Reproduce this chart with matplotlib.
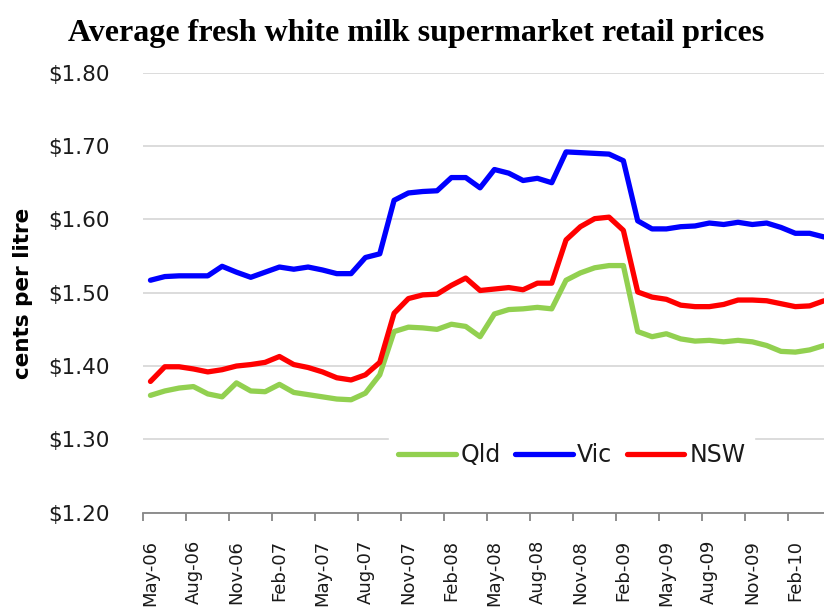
import matplotlib
matplotlib.use("Agg")
import matplotlib.pyplot as plt
from matplotlib.ticker import FuncFormatter, FixedLocator, NullFormatter

# ---------------- data ----------------
series_names = ["Qld", "Vic", "NSW"]
series_colors = ["#92D050", "#0000FF", "#FF0000"]

qld = [1.360, 1.366, 1.370, 1.372, 1.362, 1.358, 1.377, 1.366, 1.365, 1.375,
       1.364, 1.361, 1.358, 1.355, 1.354, 1.363, 1.388, 1.447, 1.453, 1.452,
       1.450, 1.457, 1.454, 1.440, 1.471, 1.477, 1.478, 1.480, 1.478, 1.517,
       1.527, 1.534, 1.537, 1.537, 1.447, 1.440, 1.444, 1.437, 1.434, 1.435,
       1.433, 1.435, 1.433, 1.428, 1.420, 1.419, 1.422, 1.428]

vic = [1.517, 1.522, 1.523, 1.523, 1.523, 1.536, 1.528, 1.521, 1.528, 1.535,
       1.532, 1.535, 1.531, 1.526, 1.526, 1.548, 1.553, 1.626, 1.636, 1.638,
       1.639, 1.657, 1.657, 1.643, 1.668, 1.663, 1.653, 1.656, 1.650, 1.692,
       1.691, 1.690, 1.689, 1.680, 1.598, 1.587, 1.587, 1.590, 1.591, 1.595,
       1.593, 1.596, 1.593, 1.595, 1.589, 1.581, 1.581, 1.576]

nsw = [1.379, 1.399, 1.399, 1.396, 1.392, 1.395, 1.400, 1.402, 1.405, 1.413,
       1.402, 1.398, 1.392, 1.384, 1.381, 1.388, 1.405, 1.472, 1.492, 1.497,
       1.498, 1.510, 1.520, 1.503, 1.505, 1.507, 1.504, 1.513, 1.513, 1.572,
       1.590, 1.601, 1.603, 1.585, 1.501, 1.494, 1.491, 1.483, 1.481, 1.481,
       1.484, 1.490, 1.490, 1.489, 1.485, 1.481, 1.482, 1.489]

# tick labels shown every third month (category index 0, 3, 6, ...)
x_tick_labels = ["May-06", "Aug-06", "Nov-06", "Feb-07", "May-07", "Aug-07",
                 "Nov-07", "Feb-08", "May-08", "Aug-08", "Nov-08", "Feb-09",
                 "May-09", "Aug-09", "Nov-09", "Feb-10"]
y_ticks = [1.20, 1.30, 1.40, 1.50, 1.60, 1.70, 1.80]

title_text = "Average fresh white milk supermarket retail prices"
y_label_text = "cents per litre"

# ---------------- figure ----------------
W, H = 824, 607
fig = plt.figure(figsize=(W / 100, H / 100), dpi=100)
fig.patch.set_facecolor("white")

ax_left, ax_right = 143.3, 824.0
ax_top, ax_bottom = 72.7, 512.7
ax = fig.add_axes([ax_left / W, 1 - ax_bottom / H,
                   (ax_right - ax_left) / W, (ax_bottom - ax_top) / H])

n = len(qld)
xs = list(range(n))
lines = []
for vals, name, col in zip([qld, vic, nsw], series_names, series_colors):
    ln, = ax.plot(xs, vals, color=col, lw=3.8, label=name,
                  solid_joinstyle="round", solid_capstyle="round", zorder=3)
    lines.append(ln)

ax.set_xlim(-0.5, 47.0)
ax.set_ylim(1.20, 1.80)

# y axis
ax.yaxis.set_major_locator(FixedLocator(y_ticks))
ax.yaxis.set_major_formatter(FuncFormatter(lambda v, p: "${:.2f}".format(v)))
ax.tick_params(axis="y", length=0, pad=24.5, labelsize=15.5, labelcolor="#1a1a1a")
ax.grid(axis="y", color="#D9D9D9", lw=1.3, zorder=0)
ax.set_axisbelow(True)

# x axis: labels at category centres, tick marks at boundaries
label_pos = [3 * k for k in range(len(x_tick_labels))]
ax.xaxis.set_major_locator(FixedLocator(label_pos))
ax.set_xticklabels(x_tick_labels, rotation=90, fontsize=13, color="#1a1a1a")
ax.tick_params(axis="x", which="major", length=0, pad=19.5)
ax.xaxis.set_minor_locator(FixedLocator([3 * k - 0.5 for k in range(len(x_tick_labels))]))
ax.xaxis.set_minor_formatter(NullFormatter())
ax.tick_params(axis="x", which="minor", length=5.5, width=1.3, color="#868686")

for s in ["left", "right", "top"]:
    ax.spines[s].set_visible(False)
ax.spines["bottom"].set_color("#868686")
ax.spines["bottom"].set_linewidth(1.3)

# legend
leg = fig.legend(handles=lines, labels=series_names, ncol=3, loc="center",
                 bbox_to_anchor=(571.5 / W, 1 - 455 / H),
                 fontsize=17, handlelength=2.45, handletextpad=0.2,
                 columnspacing=0.6, frameon=True, fancybox=False,
                 borderpad=0.35, framealpha=1.0)
leg.get_frame().set_facecolor("white")
leg.get_frame().set_edgecolor("white")
for t in leg.get_texts():
    t.set_color("#1a1a1a")
for h in leg.legend_handles:
    h.set_linewidth(3.8)

# title & y label
fig.text(416 / W, 1 - 41 / H, title_text, ha="center", va="baseline",
         fontfamily="Liberation Serif", fontweight="bold", fontsize=23)
fig.text(23.5 / W, 1 - 293.5 / H, y_label_text, rotation=90, ha="center",
         va="center", fontweight="bold", fontsize=15.5)

fig.savefig("out.png", dpi=100)
